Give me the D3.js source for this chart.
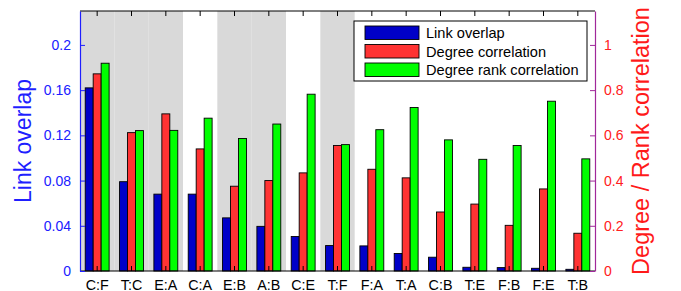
<!DOCTYPE html>
<html>
<head>
<meta charset="utf-8">
<script src="https://cdn.jsdelivr.net/npm/d3@7"></script>
<style>
  body { margin: 0; background: #fff; }
  svg { font-family: "Liberation Sans", Arial, sans-serif; }
</style>
</head>
<body>
<div id="chart"></div>
<script>
var categories = ["C:F", "T:C", "E:A", "C:A", "E:B", "A:B", "C:E", "T:F", "F:A", "T:A", "C:B", "T:E", "F:B", "F:E", "T:B"];
var linkOverlap = [0.162, 0.079, 0.068, 0.068, 0.047, 0.0395, 0.0305, 0.0225, 0.0222, 0.0155, 0.0122, 0.0033, 0.003, 0.0024, 0.0015];
var degreeCorr = [0.872, 0.612, 0.695, 0.540, 0.375, 0.400, 0.434, 0.555, 0.450, 0.412, 0.261, 0.296, 0.202, 0.363, 0.167];
var rankCorr = [0.919, 0.621, 0.622, 0.676, 0.586, 0.650, 0.782, 0.559, 0.625, 0.723, 0.580, 0.494, 0.555, 0.751, 0.496];
var shaded = ["C:F", "T:C", "E:A", "E:B", "A:B", "T:F"];
var leftTicks = [0, 0.04, 0.08, 0.12, 0.16, 0.2];
var rightTicks = [0, 0.2, 0.4, 0.6, 0.8, 1];
var seriesNames = ["Link overlap", "Degree correlation", "Degree rank correlation"];
var seriesColors = ["#0000c8", "#ff3333", "#00ff00"];

var width = 681, height = 291;
var margin = {left: 80, right: 86, top: 11, bottom: 20};

var svg = d3.select("#chart").append("svg")
  .attr("width", width)
  .attr("height", height);

var x = d3.scaleBand()
  .domain(categories)
  .range([margin.left, width - margin.right]);

var yLeft = d3.scaleLinear().domain([0, 0.23]).range([height - margin.bottom, margin.top]);
var yRight = d3.scaleLinear().domain([0, 1.15]).range([height - margin.bottom, margin.top]);

var bw = x.bandwidth() * 0.232;

// grey background bands
svg.selectAll("rect.shade")
  .data(shaded)
  .enter().append("rect")
  .attr("class", "shade")
  .attr("x", function(d) { return x(d); })
  .attr("y", margin.top)
  .attr("width", x.bandwidth())
  .attr("height", height - margin.bottom - margin.top)
  .attr("fill", "#d9d9d9");

var series = [
  {vals: linkOverlap, scale: yLeft},
  {vals: degreeCorr, scale: yRight},
  {vals: rankCorr, scale: yRight}
];

series.forEach(function(s, i) {
  svg.selectAll("rect.s" + i)
    .data(categories)
    .enter().append("rect")
    .attr("class", "s" + i)
    .attr("x", function(d) { return x(d) + x.bandwidth() / 2 + (i - 1.5) * bw; })
    .attr("y", function(d, j) { return s.scale(s.vals[j]); })
    .attr("width", bw)
    .attr("height", function(d, j) { return s.scale(0) - s.scale(s.vals[j]); })
    .attr("fill", seriesColors[i])
    .attr("stroke", "#000")
    .attr("stroke-width", 0.9);
});

var bottom = height - margin.bottom;
var right = width - margin.right;

// top and bottom ticks (inside)
var xc = categories.map(function(d) { return x(d) + x.bandwidth() / 2; });
svg.selectAll("line.tt").data(xc).enter().append("line")
  .attr("x1", function(d) { return d; }).attr("x2", function(d) { return d; })
  .attr("y1", margin.top).attr("y2", margin.top + 5)
  .attr("stroke", "#000");
svg.selectAll("line.bt").data(xc).enter().append("line")
  .attr("x1", function(d) { return d; }).attr("x2", function(d) { return d; })
  .attr("y1", bottom).attr("y2", bottom - 5)
  .attr("stroke", "#000");

// frame top / bottom
svg.append("line").attr("x1", margin.left).attr("x2", right)
  .attr("y1", margin.top).attr("y2", margin.top).attr("stroke", "#000");
svg.append("line").attr("x1", margin.left).attr("x2", right)
  .attr("y1", bottom).attr("y2", bottom).attr("stroke", "#000");

// x labels
svg.selectAll("text.xl").data(categories).enter().append("text")
  .attr("x", function(d) { return x(d) + x.bandwidth() / 2; })
  .attr("y", 289.5)
  .attr("text-anchor", "middle")
  .attr("font-size", "14.3px")
  .attr("fill", "#000")
  .text(function(d) { return d; });

// left axis
var leftAxis = svg.append("g")
  .attr("transform", "translate(" + margin.left + ",0)")
  .call(d3.axisLeft(yLeft).tickValues(leftTicks).tickSizeInner(-5).tickSizeOuter(0).tickPadding(9)
    .tickFormat(function(d) { return d === 0 ? "0" : d3.format("")(d); }));
leftAxis.select(".domain").attr("stroke", "#1f1fff").attr("stroke-width", 1.2);
leftAxis.selectAll(".tick line").attr("stroke", "#1f1fff");
leftAxis.selectAll("text").attr("fill", "#2020ff").attr("font-size", "14px")
  .attr("font-family", "Liberation Sans, Arial, sans-serif");

// right axis
var rightAxis = svg.append("g")
  .attr("transform", "translate(" + right + ",0)")
  .call(d3.axisRight(yRight).tickValues(rightTicks).tickSizeInner(-5).tickSizeOuter(0).tickPadding(9)
    .tickFormat(function(d) { return d3.format("")(d); }));
rightAxis.select(".domain").attr("stroke", "#a0289a").attr("stroke-width", 1.2);
rightAxis.selectAll(".tick line").attr("stroke", "#a0289a");
rightAxis.selectAll("text").attr("fill", "#ff2020").attr("font-size", "14px")
  .attr("font-family", "Liberation Sans, Arial, sans-serif");

// axis titles
svg.append("text")
  .attr("transform", "translate(31," + (margin.top + (bottom - margin.top) / 2) + ") rotate(-90)")
  .attr("text-anchor", "middle")
  .attr("font-size", "23px")
  .attr("fill", "#1f1fff")
  .text("Link overlap");

svg.append("text")
  .attr("transform", "translate(649," + 141 + ") rotate(-90)")
  .attr("text-anchor", "middle")
  .attr("font-size", "23.5px")
  .attr("fill", "#ff1a1a")
  .text("Degree / Rank correlation");

// legend
var lg = svg.append("g").attr("transform", "translate(354,21)");
lg.append("rect").attr("width", 233).attr("height", 60)
  .attr("fill", "#fff").attr("stroke", "#000");
seriesNames.forEach(function(n, i) {
  lg.append("rect")
    .attr("x", 11).attr("y", 5 + i * 18.5)
    .attr("width", 54).attr("height", 13.5)
    .attr("fill", seriesColors[i]).attr("stroke", "#000").attr("stroke-width", 0.9);
  lg.append("text")
    .attr("x", 72).attr("y", 17 + i * 18.5)
    .attr("font-size", "14.6px")
    .attr("fill", "#000")
    .text(n);
});
</script>
</body>
</html>
